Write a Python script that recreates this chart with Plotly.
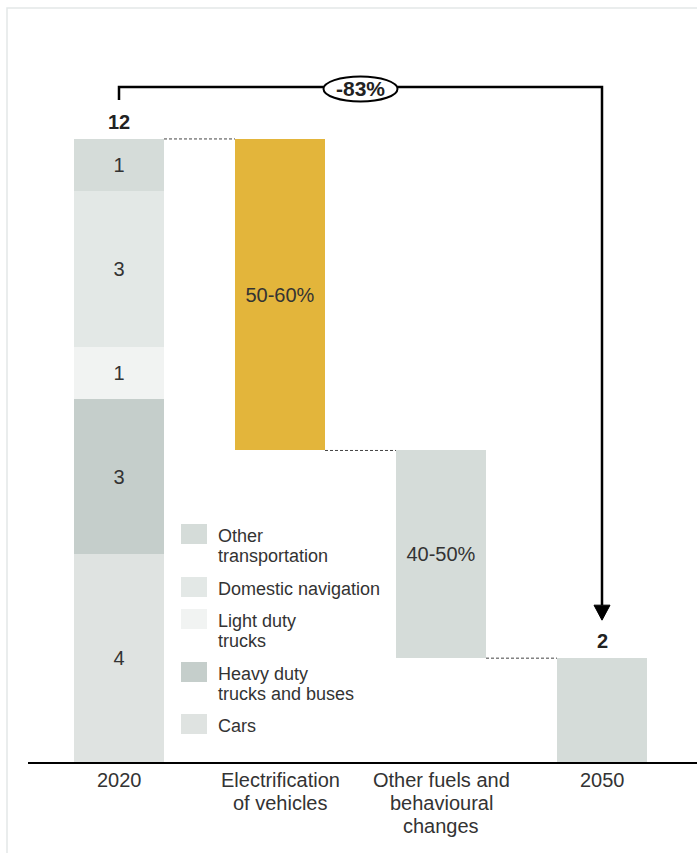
import plotly.graph_objects as go

# ---- data -------------------------------------------------------------
categories = ["2020", "Electrification<br>of vehicles",
              "Other fuels and<br>behavioural<br>changes", "2050"]

segment_names = ["Cars", "Heavy duty trucks and buses", "Light duty trucks",
                 "Domestic navigation", "Other transportation"]
segment_values = [4, 3, 1, 3, 1]          # 2020 emissions by segment (bottom -> top)

lever_drops = [6, 4]                       # reductions from each lever
lever_labels = ["50-60%", "40-50%"]
end_value = 2                              # 2050

# ---- styling ----------------------------------------------------------
FONT = "Liberation Sans, Arial, sans-serif"
TEXT = "#333333"
segment_colors = ["#dfe3e1", "#c5cecb", "#f1f3f2", "#e3e8e6", "#d5dcd9"]
lever_colors = ["#e3b53b", "#d5dcd9"]
end_color = "#d5dcd9"

W, H = 697, 853
ML, MB = 28, 91
BAR_W = 0.559
PX_PER_UNIT_X = 161.0                      # pixels between category centres
CENTER0_PX = 119.0                         # pixel centre of first category
Y_TOP = 14.676                             # y value at top edge of plot

plot_w = W - ML
plot_h = H - MB


def px_to_paper(px, py):
    return (px - ML) / plot_w, 1 - py / plot_h


fig = go.Figure()

# 2020 stacked column
start_total = sum(segment_values)
base = 0
for name, val, col in zip(segment_names, segment_values, segment_colors):
    fig.add_trace(go.Bar(
        x=[0], y=[val], base=[base], width=BAR_W, name=name,
        marker=dict(color=col, line=dict(width=0)),
        text=[str(val)], textposition="inside", insidetextanchor="middle",
        textfont=dict(family=FONT, size=20, color=TEXT),
        constraintext="none", showlegend=False, hoverinfo="skip",
    ))
    base += val

# lever bars (floating)
level = start_total
levels = [start_total]
for i, (drop, lab, col) in enumerate(zip(lever_drops, lever_labels, lever_colors)):
    fig.add_trace(go.Bar(
        x=[i + 1], y=[drop], base=[level - drop], width=BAR_W,
        marker=dict(color=col, line=dict(width=0)),
        text=[lab], textposition="inside", insidetextanchor="middle",
        textfont=dict(family=FONT, size=20, color=TEXT),
        constraintext="none", showlegend=False, hoverinfo="skip",
    ))
    level -= drop
    levels.append(level)

# 2050 column
fig.add_trace(go.Bar(
    x=[3], y=[end_value], base=[0], width=BAR_W,
    marker=dict(color=end_color, line=dict(width=0)),
    showlegend=False, hoverinfo="skip",
))

shapes = []
annotations = []

# category labels under the axis, one annotation per line for tight spacing
for i, cat in enumerate(categories):
    for k, line_text in enumerate(cat.split("<br>")):
        _, ty = px_to_paper(0, 780 + 23 * k)
        annotations.append(dict(
            x=i, y=ty, xref="x", yref="paper",
            xanchor="center", yanchor="middle", showarrow=False,
            text=line_text, font=dict(family=FONT, size=20, color=TEXT),
        ))

# dashed connectors between consecutive columns
for i, lv in enumerate(levels):
    shapes.append(dict(
        type="line", xref="x", yref="y",
        x0=i + BAR_W / 2, x1=i + 1 - BAR_W / 2, y0=lv, y1=lv,
        line=dict(color="#444444", width=1, dash="3px,2px"),
    ))

# totals above first and last columns
px_unit_y = plot_h / Y_TOP
annotations.append(dict(
    x=0, y=start_total + 17 / px_unit_y, xref="x", yref="y",
    text=f"<b>{start_total}</b>", showarrow=False,
    font=dict(family=FONT, size=20, color="#222222"),
))
annotations.append(dict(
    x=3, y=end_value + 17 / px_unit_y, xref="x", yref="y",
    text=f"<b>{end_value}</b>", showarrow=False,
    font=dict(family=FONT, size=20, color="#222222"),
))

# bracket arrow from 2020 total to 2050 total
y_bracket = start_total + 52 / px_unit_y
y_left_end = start_total + 39 / px_unit_y
y_tip = end_value + 38 / px_unit_y
head_h = 15 / px_unit_y
head_hw = 8 / PX_PER_UNIT_X
shapes.append(dict(
    type="path", xref="x", yref="y",
    path=f"M 0,{y_left_end} L 0,{y_bracket} L 3,{y_bracket} L 3,{y_tip + head_h}",
    line=dict(color="black", width=2.5),
))
shapes.append(dict(
    type="path", xref="x", yref="y",
    path=f"M {3 - head_hw},{y_tip + head_h} L {3 + head_hw},{y_tip + head_h} L 3,{y_tip} Z",
    fillcolor="black", line=dict(color="black", width=1),
))

# percentage change badge
pct = round((end_value - start_total) / start_total * 100)
shapes.append(dict(
    type="circle", xref="x", yref="y",
    xsizemode="pixel", ysizemode="pixel",
    xanchor=1.5, yanchor=y_bracket - 2 / px_unit_y,
    x0=-37, x1=37, y0=-12.5, y1=12.5,
    fillcolor="white", line=dict(color="black", width=2),
))
annotations.append(dict(
    x=1.5, y=y_bracket - 2 / px_unit_y, xref="x", yref="y",
    text=f"<b>{pct}%</b>", showarrow=False,
    font=dict(family=FONT, size=21, color="#222222"),
))

# legend (top segment first)
legend_rows = [
    (4, ["Other", "transportation"], 524),
    (3, ["Domestic navigation"], 577),
    (2, ["Light duty", "trucks"], 609),
    (1, ["Heavy duty", "trucks and buses"], 662),
    (0, ["Cars"], 714),
]
for idx, lines, top in legend_rows:
    x0, y0 = px_to_paper(181, top)
    x1, y1 = px_to_paper(207, top + 20)
    shapes.append(dict(
        type="rect", xref="paper", yref="paper",
        x0=x0, x1=x1, y0=y1, y1=y0,
        fillcolor=segment_colors[idx], line=dict(width=0),
    ))
    for k, line_text in enumerate(lines):
        tx, ty = px_to_paper(216, top + 12 + 20 * k)
        annotations.append(dict(
            x=tx, y=ty, xref="paper", yref="paper",
            xanchor="left", yanchor="middle", showarrow=False,
            text=line_text, font=dict(family=FONT, size=18, color=TEXT),
        ))

# light frame around the figure
fx0, fy0 = px_to_paper(7, 8)
fx1, fy1 = px_to_paper(W + 10, H + 10)
shapes.append(dict(
    type="rect", xref="paper", yref="paper",
    x0=fx0, x1=fx1, y0=fy1, y1=fy0,
    line=dict(color="#e3e8e8", width=1.5), fillcolor="rgba(0,0,0,0)",
    layer="below",
))

fig.update_layout(
    width=W, height=H,
    margin=dict(l=ML, r=0, t=0, b=MB),
    paper_bgcolor="white", plot_bgcolor="white",
    barmode="overlay", bargap=0,
    showlegend=False,
    shapes=shapes, annotations=annotations,
    xaxis=dict(
        range=[(ML - CENTER0_PX) / PX_PER_UNIT_X, (W - CENTER0_PX) / PX_PER_UNIT_X],
        tickmode="array", tickvals=[0, 1, 2, 3], showticklabels=False,
        showline=True, linecolor="black", linewidth=2,
        showgrid=False, zeroline=False, ticks="", fixedrange=True,
    ),
    yaxis=dict(range=[0, Y_TOP], visible=False, fixedrange=True),
)

fig.write_html("out.html")
